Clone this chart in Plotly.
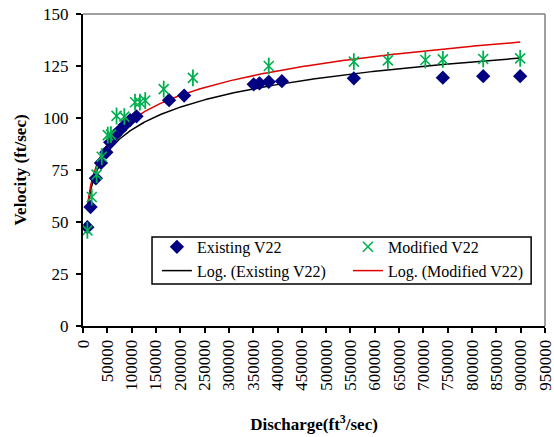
import numpy as np
import plotly.graph_objects as go

# Discharge (ft^3/sec) and velocity (ft/sec) for the existing V22 configuration
existing_q = [9000, 15500, 26500, 37000, 48000, 56000, 66000, 76000, 86000, 97000,
              110000, 177000, 208000, 351000, 363000, 382000, 409000, 557000,
              740000, 823000, 899000]
existing_v = [47.5, 57.2, 71.0, 78.4, 83.5, 88.3, 91.8, 94.2, 96.6, 99.0,
              100.8, 108.6, 110.8, 116.2, 116.7, 117.4, 117.7, 119.1,
              119.4, 120.1, 120.1]

# Discharge and velocity for the modified V22 configuration
modified_q = [9000, 18000, 28000, 38500, 51000, 57500, 69000, 85000, 107000,
              117000, 128000, 166000, 226000, 382000, 557000, 627000, 704000,
              740000, 823000, 899000]
modified_v = [46.0, 62.0, 72.8, 81.4, 91.8, 92.0, 101.0, 100.7, 107.6,
              107.6, 108.4, 113.9, 119.3, 125.0, 127.1, 127.7, 127.9,
              128.2, 128.4, 128.7]

x_ticks = list(range(0, 950001, 50000))
y_ticks = [0, 25, 50, 75, 100, 125, 150]

NAVY = "#000080"
GREEN = "#00B050"
FONT = "Liberation Serif, Times New Roman, DejaVu Serif, serif"


def log_trend(q, v):
    """Least-squares fit v = a*ln(q) + b, sampled over the data range."""
    a, b = np.polyfit(np.log(q), v, 1)
    xs = np.linspace(min(q), max(q), 400)
    return xs, a * np.log(xs) + b


ex_x, ex_y = log_trend(existing_q, existing_v)
mo_x, mo_y = log_trend(modified_q, modified_v)

fig = go.Figure()

fig.add_trace(go.Scatter(
    x=ex_x, y=ex_y, mode="lines", name="Log. (Existing V22)",
    line=dict(color="black", width=1.5), showlegend=False, legendgroup="le"))
fig.add_trace(go.Scatter(
    x=mo_x, y=mo_y, mode="lines", name="Log. (Modified V22)",
    line=dict(color="#E00000", width=1.5), showlegend=False, legendgroup="lm"))

fig.add_trace(go.Scatter(
    x=existing_q, y=existing_v, mode="markers", name="Existing V22",
    marker=dict(symbol="diamond", color=NAVY, size=11, line=dict(width=0))))

# star marker: an x with a vertical stroke through it
fig.add_trace(go.Scatter(
    x=modified_q, y=modified_v, mode="markers", name="Modified V22",
    legendgroup="mod",
    marker=dict(symbol="x-thin-open", color=GREEN, size=10,
                line=dict(color=GREEN, width=1.6))))
fig.add_trace(go.Scatter(
    x=modified_q, y=modified_v, mode="markers", showlegend=False,
    legendgroup="mod", hoverinfo="skip",
    marker=dict(symbol="line-ns-open", color=GREEN, size=12,
                line=dict(color=GREEN, width=1.8))))

# legend entries for the trend lines (second legend row)
fig.add_trace(go.Scatter(
    x=[None], y=[None], mode="lines", name="Log. (Existing V22)",
    line=dict(color="black", width=1.5), legendgroup="le"))
fig.add_trace(go.Scatter(
    x=[None], y=[None], mode="lines", name="Log. (Modified V22)",
    line=dict(color="#E00000", width=1.5), legendgroup="lm"))

fig.update_layout(
    width=554, height=437,
    margin=dict(l=83, r=9, t=14, b=111),
    paper_bgcolor="white", plot_bgcolor="white",
    font=dict(family=FONT, size=17, color="black"),
    showlegend=True,
    legend=dict(
        orientation="h", x=0.160, y=0.308, xanchor="left", yanchor="top",
        bgcolor="rgba(0,0,0,0)", borderwidth=0,
        entrywidth=146, entrywidthmode="pixels",
        font=dict(family=FONT, size=16), tracegroupgap=0,
        itemwidth=30,
    ),
    xaxis=dict(
        range=[0, 950050], tickvals=x_ticks,
        ticktext=[str(t) for t in x_ticks], tickangle=-90,
        ticklabeloverflow="allow",
        showgrid=False, zeroline=False,
        showline=True, linecolor="black", linewidth=2,
        ticks="outside", ticklen=5, tickwidth=1.5, tickcolor="black",
        tickfont=dict(family=FONT, size=17),
        title=dict(text="<b>Discharge(ft<sup>3</sup>/sec)</b>",
                   font=dict(family=FONT, size=17), standoff=28),
        automargin=False,
    ),
    yaxis=dict(
        range=[0, 150.01], tickvals=y_ticks,
        showgrid=False, zeroline=False,
        showline=True, linecolor="black", linewidth=2,
        ticks="outside", ticklen=5, tickwidth=1.5, tickcolor="black",
        tickfont=dict(family=FONT, size=17), ticklabelstandoff=4,
        title=dict(text="<b>Velocity (ft/sec)</b>",
                   font=dict(family=FONT, size=17), standoff=12),
        automargin=False,
    ),
    shapes=[
        # plot-area frame on the top and right
        dict(type="line", xref="paper", yref="paper", x0=0, x1=1, y0=1, y1=1,
             line=dict(color="#808080", width=1.5)),
        dict(type="line", xref="paper", yref="paper", x0=1, x1=1, y0=0, y1=1,
             line=dict(color="#808080", width=1.5)),
        # legend box
        dict(type="rect", xref="paper", yref="paper", layer="above",
             x0=0.1494, x1=0.970, y0=0.1346, y1=0.2853,
             fillcolor="white", line=dict(color="black", width=1.5)),
    ],
)

fig.write_html("out.html")
